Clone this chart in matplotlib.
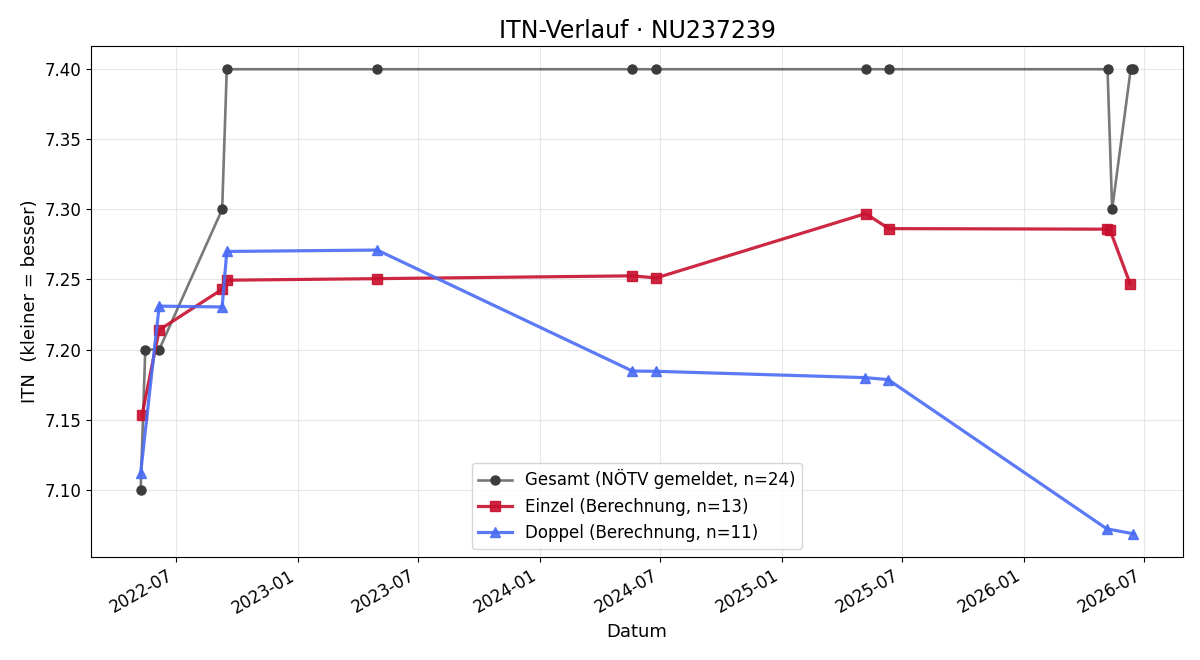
import numpy as np
import pandas as pd
import matplotlib
matplotlib.use("Agg")
import matplotlib.pyplot as plt
import matplotlib.dates as mdates

# Gesamt (reported ITN, rounded)
ges_dates = ["2022-05-09", "2022-05-16", "2022-06-06", "2022-09-09", "2022-09-16",
             "2023-05-01", "2024-05-20", "2024-06-25", "2025-05-07", "2025-06-11",
             "2026-05-07", "2026-05-14", "2026-06-11", "2026-06-15"]
ges_itn = [7.10, 7.20, 7.20, 7.30, 7.40, 7.40, 7.40, 7.40, 7.40, 7.40,
           7.40, 7.30, 7.40, 7.40]

# Einzel (computed)
ein_dates = ["2022-05-11", "2022-06-06", "2022-09-09", "2022-09-16", "2023-05-01",
             "2024-05-20", "2024-06-25", "2025-05-07", "2025-06-11", "2026-05-06",
             "2026-05-11", "2026-06-10"]
ein_itn = [7.153, 7.214, 7.243, 7.2495, 7.2506, 7.2526, 7.2511, 7.297, 7.2863,
           7.2859, 7.285, 7.2471]

# Doppel (computed)
dop_dates = ["2022-05-09", "2022-06-06", "2022-09-09", "2022-09-16", "2023-05-01",
             "2024-05-20", "2024-06-25", "2025-05-06", "2025-06-10", "2026-05-06",
             "2026-06-15"]
dop_itn = [7.112, 7.231, 7.2304, 7.270, 7.271, 7.1847, 7.1845, 7.180, 7.1786,
           7.0721, 7.0686]

ges_x = pd.to_datetime(ges_dates)
ein_x = pd.to_datetime(ein_dates)
dop_x = pd.to_datetime(dop_dates)

fig, ax = plt.subplots(figsize=(12, 6.6), dpi=100)

ax.plot(ges_x, ges_itn, color=(0.25, 0.25, 0.25, 0.7), lw=1.9,
        marker="o", markersize=6.5, markerfacecolor="#3c3c3c",
        markeredgecolor="#3c3c3c", label="Gesamt (NÖTV gemeldet, n=24)")
ax.plot(ein_x, ein_itn, color="#c8102e", lw=2.3, alpha=0.9,
        marker="s", markersize=7.5, label="Einzel (Berechnung, n=13)")
ax.plot(dop_x, dop_itn, color="#4a6cf4", lw=2.3, alpha=0.9,
        marker="^", markersize=7.5, label="Doppel (Berechnung, n=11)")

ax.set_title("ITN-Verlauf · NU237239", fontsize=17)
ax.set_xlabel("Datum", fontsize=13)
ax.set_ylabel("ITN  (kleiner = besser)", fontsize=13)
ax.tick_params(labelsize=12)
ax.grid(True, alpha=0.3)
ax.xaxis.set_major_formatter(mdates.DateFormatter("%Y-%m"))
ax.legend(loc="lower center", fontsize=12)
fig.autofmt_xdate()
fig.subplots_adjust(left=91/1200, right=1183/1200, top=1-46/660, bottom=1-557/660)
fig.savefig("out.png")
